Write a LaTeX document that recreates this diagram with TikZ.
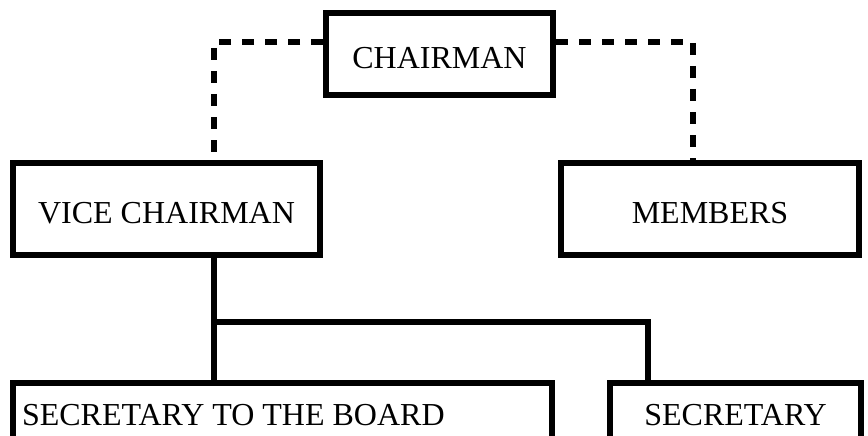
\documentclass[tikz,border=0pt]{standalone}
\usepackage{fontspec}
\setmainfont{Liberation Serif}
\begin{document}
\begin{tikzpicture}[x=1pt,y=-1pt,
  box/.style={draw=black, line width=6pt, rectangle, inner sep=0pt,
    font=\fontsize{32}{38}\selectfont, text height=28.5pt, text depth=0pt},
  solidlink/.style={draw=black, line width=6pt, line join=miter},
  dashlink/.style={draw=black, line width=6.5pt, dash pattern=on 12pt off 11pt}]
\useasboundingbox (0,0) rectangle (868,436);
\clip (0,0) rectangle (868,436);
\fill[white] (0,0) rectangle (868,436);
\node[box, minimum width=227pt, minimum height=82pt] (chair) at (439.5,54) {CHAIRMAN};
\node[box, minimum width=307pt, minimum height=92pt] (vice) at (166.5,209) {VICE CHAIRMAN};
\node[box, minimum width=298pt, minimum height=92pt] (members) at (710,209) {MEMBERS};
\node[box, minimum width=539pt, minimum height=56pt, inner xsep=9pt] (secb) at (282.5,411) {\makebox[521pt][l]{SECRETARY TO THE BOARD}};
\node[box, minimum width=251pt, minimum height=56pt] (sec) at (735.5,411) {SECRETARY};
\coordinate (dl) at (214,42);
\coordinate (dr) at (693,42);
\coordinate (j1) at (214,322);
\coordinate (j2) at (648,322);
\draw[dashlink] (chair.west |- dl) -- (dl) -- (vice.north -| dl);
\draw[dashlink] (chair.east |- dr) -- (dr) -- (members.north -| dr);
\draw[solidlink] (vice.south -| j1) -- (secb.north -| j1);
\draw[solidlink] (j1) -- (j2) -- (sec.north -| j2);
\end{tikzpicture}
\end{document}
